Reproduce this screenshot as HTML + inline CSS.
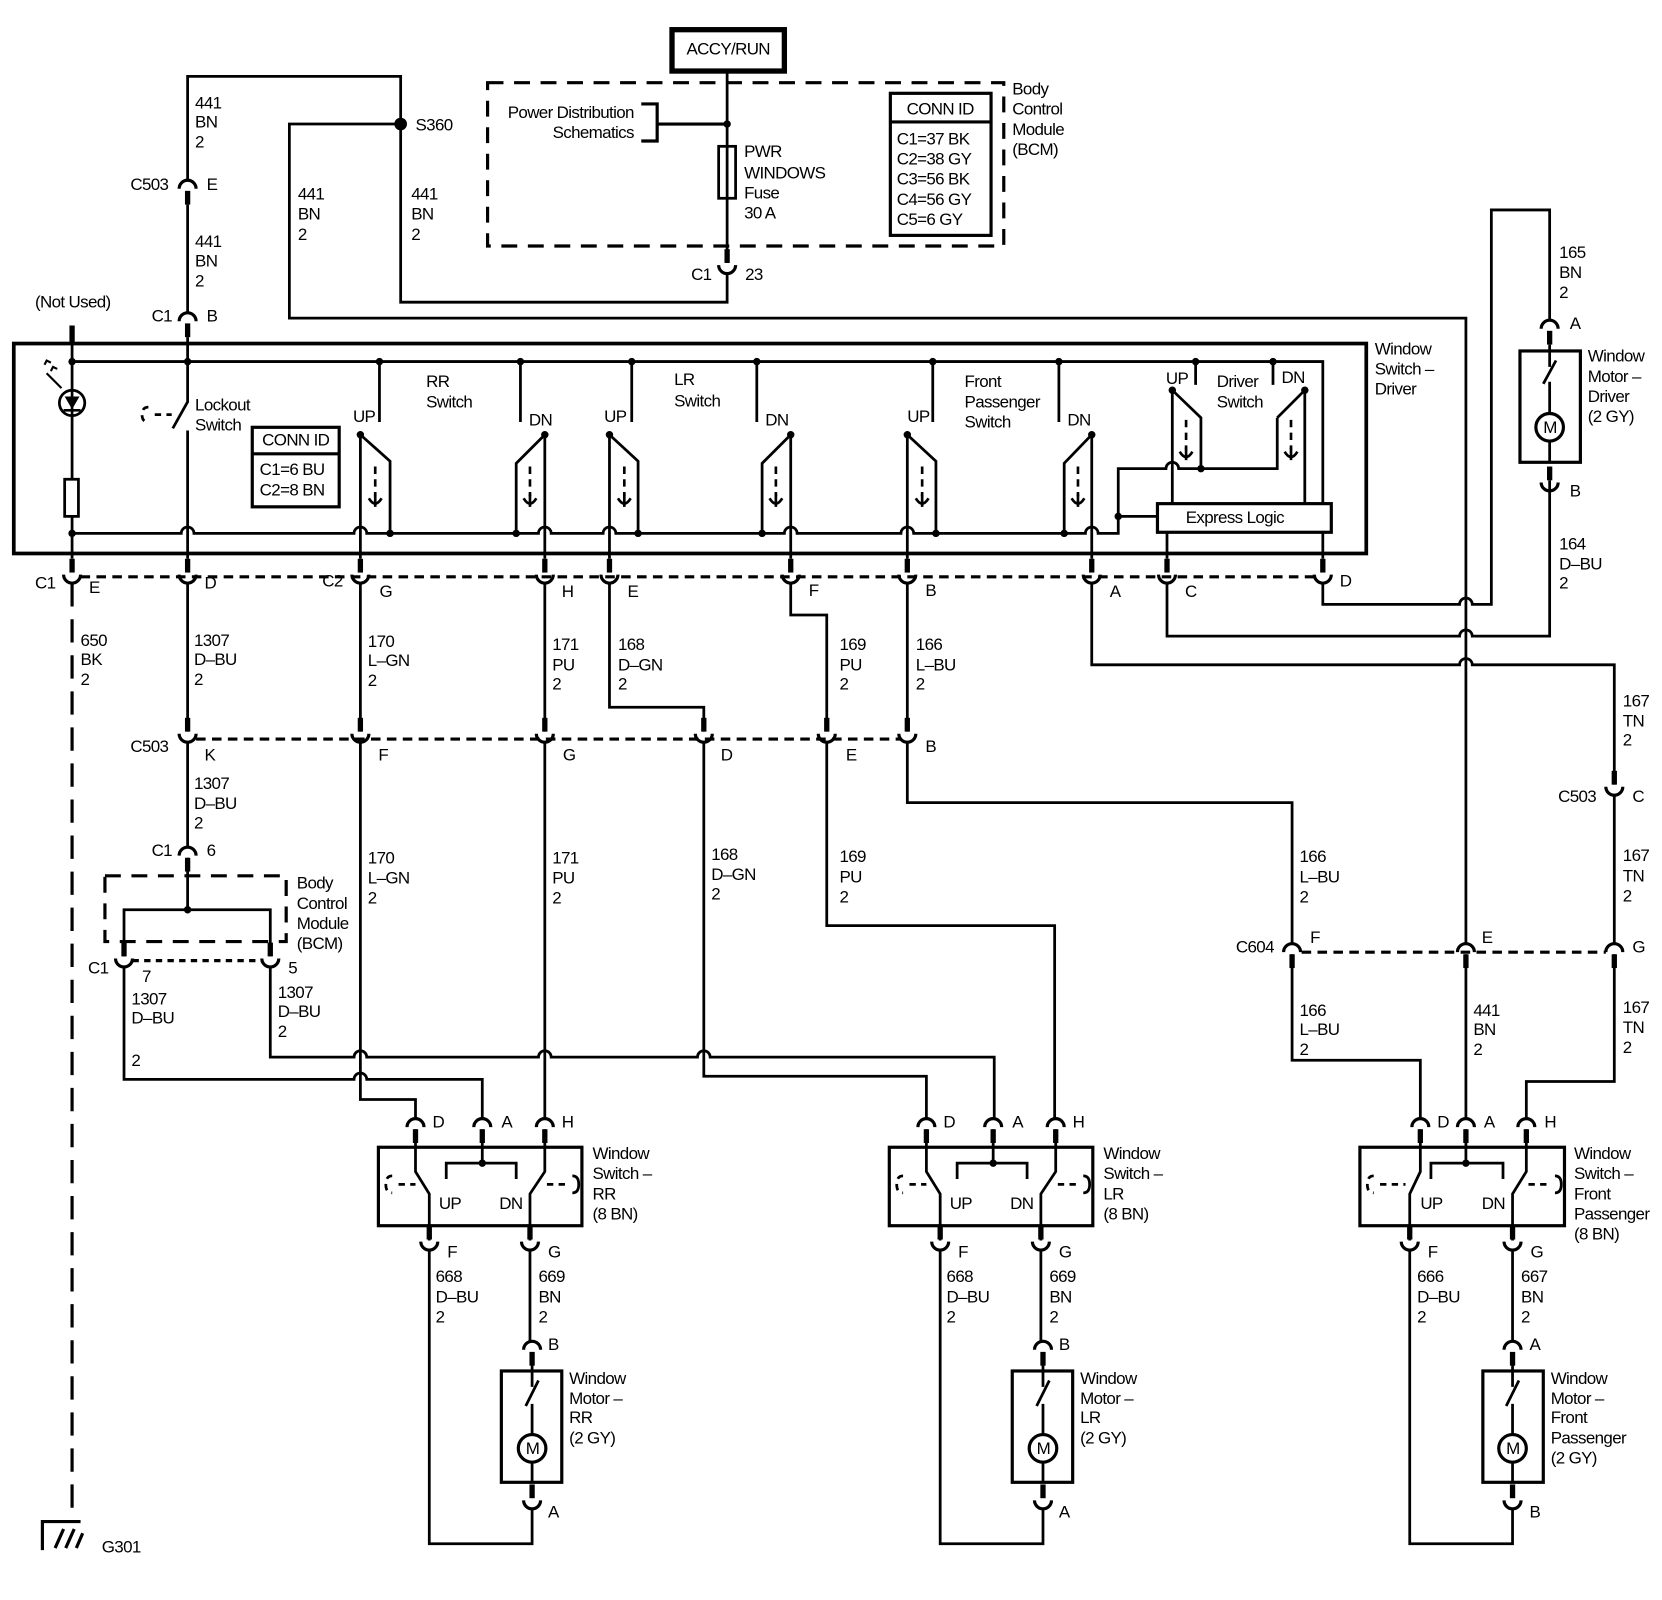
<!DOCTYPE html>
<html><head><meta charset="utf-8"><style>
html,body{margin:0;padding:0;background:#fff;}
svg{display:block;}
text{font-family:"Liberation Sans Narrow","Liberation Sans",sans-serif;font-size:16px;letter-spacing:-0.6px;dominant-baseline:central;fill:#000;}
</style></head><body>
<svg width="1662" height="1600" viewBox="0 0 1568 1509" preserveAspectRatio="none" xmlns="http://www.w3.org/2000/svg">
<defs>
<g id="cd"><path d="M-8,5 A8,8 0 0 1 8,5" fill="none" stroke="#000" stroke-width="3"/><line x1="0" y1="7" x2="0" y2="20" stroke="#000" stroke-width="5"/></g>
<g id="cu"><path d="M-8,-5 A8,8 0 0 0 8,-5" fill="none" stroke="#000" stroke-width="3"/><line x1="0" y1="-20" x2="0" y2="-7" stroke="#000" stroke-width="5"/></g>
<g id="act"><line x1="0" y1="0" x2="0" y2="28" stroke="#000" stroke-width="2.5" stroke-dasharray="7 5"/><path d="M-6,30 Q0,40 6,30 M0,26 V38" fill="none" stroke="#000" stroke-width="2.5"/></g>
</defs>
<rect width="1568" height="1509" fill="#fff"/>
<g fill="none" stroke="#000" stroke-width="2.6">
<rect x="634" y="28" width="106" height="39" stroke-width="5"/>
<rect x="460" y="78" width="487" height="154" stroke-width="3" stroke-dasharray="15 10"/>
<path d="M686,67 V248"/>
<rect x="678" y="138" width="16" height="49" fill="#fff"/>
<path d="M686,138 V187"/>
<path d="M605,98 H620 V133 H605 M620,117 H686" stroke-width="3"/>
<rect x="840" y="88" width="95" height="134" stroke-width="3"/>
<path d="M840,115 H935" stroke-width="3"/>
<path d="M177,170 V72 H378 V285 H686 V258"/>
<path d="M378,117 H273 V300 H1383 V890"/>
<path d="M1383,900 V1055"/>
<path d="M177,193 V295"/>
<rect x="13" y="324" width="1276" height="198" stroke-width="3.5"/>
<path d="M68,307 V325" stroke-width="5"/>
<path d="M68,325 V527"/>
<path d="M177,318 V379 L163,404 M177,406 V527"/>
<path d="M140,384 q-6,0 -6,7 q0,7 6,7 M146,391 H162" stroke-dasharray="6 5"/>
<path d="M68,341 H1248 V474"/>
<path d="M358,341 V398 M491,341 V398 M596,341 V398 M714,341 V398 M880,341 V398 M999,341 V398 M1128,341 V363 M1201,341 V363"/>
<path d="M68,503 H171 a6,6 0 0 1 12,0 H334 a6,6 0 0 1 12,0 H508 a6,6 0 0 1 12,0 H569 a6,6 0 0 1 12,0 H740 a6,6 0 0 1 12,0 H850 a6,6 0 0 1 12,0 H1024 a6,6 0 0 1 12,0 H1055 V442 H1100 a6,6 0 0 1 12,0 H1205 V394"/>
<path d="M1055,487 H1092"/>
<path d="M340,410 V527 M340,410 L368,435 V503"/>
<path d="M514,410 V527 M514,410 L487,437 V503"/>
<path d="M575,410 V527 M575,410 L602,435 V503"/>
<path d="M746,410 V527 M746,410 L719,437 V503"/>
<path d="M856,410 V527 M856,410 L883,435 V503"/>
<path d="M1030,410 V527 M1030,410 L1004,437 V503"/>
<path d="M1106,368 V474 M1106,368 L1133,394 V442"/>
<path d="M1231,368 V474 M1231,368 L1205,394"/>
<rect x="1092" y="475" width="164" height="27" stroke-width="3"/>
<path d="M1101,502 V527 M1248,502 V527"/>
<circle cx="68" cy="380" r="12" fill="#fff"/>
<rect x="61" y="452" width="13" height="35" fill="#fff"/>
<rect x="238" y="403" width="82" height="75" stroke-width="3"/>
<path d="M238,428 H320" stroke-width="3"/>
<path d="M76,544 H1240" stroke-width="3" stroke-dasharray="9 6"/>
<path d="M68,550 V1432" stroke-width="3" stroke-dasharray="22 12"/>
<path d="M177,550 V690 M177,700 V799 M177,809 V858 M117,902 V858 H255 V902"/>
<rect x="99" y="826" width="171" height="62" stroke-width="3" stroke-dasharray="15 10"/>
<path d="M125,906 H247" stroke-width="3" stroke-dasharray="6 5"/>
<path d="M117,912 V1018 H334 a6,6 0 0 1 12,0 H455 V1055"/>
<path d="M255,912 V997 H334 a6,6 0 0 1 12,0 H508 a6,6 0 0 1 12,0 H658 a6,6 0 0 1 12,0 H938 V1055"/>
<path d="M340,550 V690 M340,700 V1037 H392 V1055"/>
<path d="M514,550 V690 M514,700 V1055"/>
<path d="M575,550 V667 H664 V690 M664,700 V1015 H874 V1055"/>
<path d="M746,550 V580 H780 V690 M780,700 V873 H995 V1055"/>
<path d="M856,550 V690 M856,700 V757 H1219 V890 M1219,900 V1000 H1340 V1055"/>
<path d="M1030,550 V627 H1377 a6,6 0 0 1 12,0 H1523 V740 M1523,750 V890 M1523,900 V1020 H1440 V1055"/>
<path d="M1101,550 V600 H1377 a6,6 0 0 1 12,0 H1462 V453"/>
<path d="M1248,550 V570 H1377 a6,6 0 0 1 12,0 H1407 V198 H1462 V302"/>
<path d="M185,697 H850" stroke-width="3" stroke-dasharray="9 6"/>
<path d="M1228,898 H1515" stroke-width="3" stroke-dasharray="9 6"/>
<rect x="1434" y="331" width="57" height="105" stroke-width="3"/>
<path d="M1462,325 V346 M1456,362 L1468,340 M1462,360 V390 M1462,416 V436"/>
<circle cx="1462" cy="403" r="13" fill="#fff" stroke-width="3"/>
<path d="M40,1462 V1435 H76 M52,1460 L60,1442 M62,1460 L70,1442 M72,1460 L78,1446" stroke-width="3"/>
<g id="sw">
<rect x="357" y="1082" width="192" height="74" stroke-width="3"/>
<path d="M392,1065 V1105 L405,1126 V1170"/>
<path d="M455,1065 V1097 M421,1112 V1097 H487 V1112"/>
<path d="M514,1065 V1105 L500,1126 V1170"/>
<path d="M370,1109 q-6,0 -6,8 q0,8 6,8 M376,1117 H392 M516,1117 H534" stroke-dasharray="6 5"/>
<path d="M540,1109 q6,0 6,8 q0,8 -6,8"/>
<path d="M405,1179 V1456 H502 V1423"/>
<path d="M500,1179 V1265"/>
<rect x="473" y="1293" width="57" height="105" stroke-width="3"/>
<path d="M502,1287 V1308 M496,1326 L508,1302 M502,1324 V1353 M502,1379 V1398"/>
<circle cx="502" cy="1366" r="13" fill="#fff" stroke-width="3"/>
</g>
<use href="#sw" x="482" y="0"/>
<rect x="1283" y="1082" width="193" height="74" stroke-width="3"/>
<path d="M1340,1065 V1105 L1330,1126 V1170"/>
<path d="M1383,1065 V1097 M1350,1112 V1097 H1418 V1112"/>
<path d="M1440,1065 V1105 L1427,1126 V1170"/>
<path d="M1296,1109 q-6,0 -6,8 q0,8 6,8 M1302,1117 H1326 M1442,1117 H1462" stroke-dasharray="6 5"/>
<path d="M1467,1109 q6,0 6,8 q0,8 -6,8"/>
<path d="M1330,1179 V1456 H1427 V1423"/>
<path d="M1427,1179 V1265"/>
<rect x="1399" y="1293" width="57" height="105" stroke-width="3"/>
<path d="M1427,1287 V1308 M1421,1326 L1433,1302 M1427,1324 V1353 M1427,1379 V1398"/>
<circle cx="1427" cy="1366" r="13" fill="#fff" stroke-width="3"/>
</g>
<path d="M61,374 H75 L68,386 Z" fill="#000"/>
<path d="M60,387 H76 M68,368 V392" stroke="#000" stroke-width="2.5"/>
<path d="M50,358 L58,366 M44,352 L52,360 M48,350 l2,-4 4,2 M42,344 l2,-4 4,2" stroke="#000" stroke-width="2" fill="none"/>
<use href="#act" x="354" y="440"/><use href="#act" x="500" y="440"/><use href="#act" x="589" y="440"/><use href="#act" x="732" y="440"/><use href="#act" x="870" y="440"/><use href="#act" x="1017" y="440"/><use href="#act" x="1119" y="396"/><use href="#act" x="1218" y="396"/>
<g fill="#000">
<circle cx="378" cy="117" r="6"/><circle cx="686" cy="117" r="3.5"/>
<circle cx="68" cy="341" r="3.5"/><circle cx="177" cy="341" r="3.5"/><circle cx="358" cy="341" r="3.5"/><circle cx="491" cy="341" r="3.5"/><circle cx="596" cy="341" r="3.5"/><circle cx="714" cy="341" r="3.5"/><circle cx="880" cy="341" r="3.5"/><circle cx="999" cy="341" r="3.5"/><circle cx="1128" cy="341" r="3.5"/><circle cx="1201" cy="341" r="3.5"/>
<circle cx="68" cy="503" r="3.5"/><circle cx="368" cy="503" r="3.5"/><circle cx="487" cy="503" r="3.5"/><circle cx="602" cy="503" r="3.5"/><circle cx="719" cy="503" r="3.5"/><circle cx="883" cy="503" r="3.5"/><circle cx="1004" cy="503" r="3.5"/>
<circle cx="340" cy="410" r="3.5"/><circle cx="514" cy="410" r="3.5"/><circle cx="575" cy="410" r="3.5"/><circle cx="746" cy="410" r="3.5"/><circle cx="856" cy="410" r="3.5"/><circle cx="1030" cy="410" r="3.5"/><circle cx="1106" cy="368" r="3.5"/><circle cx="1231" cy="368" r="3.5"/>
<circle cx="1133" cy="442" r="3.5"/><circle cx="1055" cy="487" r="3.5"/><circle cx="177" cy="858" r="3.5"/>
<circle cx="455" cy="1097" r="3.5"/><circle cx="937" cy="1097" r="3.5"/><circle cx="1383" cy="1097" r="3.5"/>
</g>
<use href="#cd" x="177" y="173"/><use href="#cd" x="177" y="298"/><use href="#cu" x="686" y="255"/>
<use href="#cu" x="68" y="547"/><use href="#cu" x="177" y="547"/><use href="#cu" x="340" y="547"/><use href="#cu" x="514" y="547"/><use href="#cu" x="575" y="547"/><use href="#cu" x="746" y="547"/><use href="#cu" x="856" y="547"/><use href="#cu" x="1030" y="547"/><use href="#cu" x="1101" y="547"/><use href="#cu" x="1248" y="547"/>
<use href="#cu" x="177" y="697"/><use href="#cu" x="340" y="697"/><use href="#cu" x="514" y="697"/><use href="#cu" x="664" y="697"/><use href="#cu" x="780" y="697"/><use href="#cu" x="856" y="697"/>
<use href="#cd" x="177" y="802"/><use href="#cu" x="117" y="909"/><use href="#cu" x="255" y="909"/>
<use href="#cd" x="1462" y="305"/><use href="#cu" x="1462" y="460"/><use href="#cu" x="1523" y="747"/>
<use href="#cd" x="1219" y="893"/><use href="#cd" x="1383" y="893"/><use href="#cd" x="1523" y="893"/>
<use href="#cd" x="392" y="1058"/><use href="#cd" x="455" y="1058"/><use href="#cd" x="514" y="1058"/><use href="#cu" x="405" y="1176"/><use href="#cu" x="500" y="1176"/><use href="#cd" x="502" y="1268"/><use href="#cu" x="502" y="1420"/>
<use href="#cd" x="874" y="1058"/><use href="#cd" x="937" y="1058"/><use href="#cd" x="996" y="1058"/><use href="#cu" x="887" y="1176"/><use href="#cu" x="982" y="1176"/><use href="#cd" x="984" y="1268"/><use href="#cu" x="984" y="1420"/>
<use href="#cd" x="1340" y="1058"/><use href="#cd" x="1383" y="1058"/><use href="#cd" x="1440" y="1058"/><use href="#cu" x="1330" y="1176"/><use href="#cu" x="1427" y="1176"/><use href="#cd" x="1427" y="1268"/><use href="#cu" x="1427" y="1420"/>

<text x="687" y="46" text-anchor="middle">ACCY/RUN</text>
<text x="598" y="106" text-anchor="end">Power Distribution</text>
<text x="598" y="125" text-anchor="end">Schematics</text>
<text x="702" y="143">PWR</text><text x="702" y="163">WINDOWS</text><text x="702" y="182">Fuse</text><text x="702" y="201">30 A</text>
<text x="887" y="103" text-anchor="middle">CONN ID</text>
<text x="846" y="131">C1=37 BK</text><text x="846" y="150">C2=38 GY</text><text x="846" y="169">C3=56 BK</text><text x="846" y="188">C4=56 GY</text><text x="846" y="207">C5=6 GY</text>
<text x="955" y="84">Body</text><text x="955" y="103">Control</text><text x="955" y="122">Module</text><text x="955" y="141">(BCM)</text>
<text x="652" y="259">C1</text><text x="703" y="259">23</text>
<text x="392" y="118">S360</text>
<text x="184" y="97">441</text><text x="184" y="115">BN</text><text x="184" y="134">2</text>
<text x="123" y="174">C503</text><text x="195" y="174">E</text>
<text x="184" y="228">441</text><text x="184" y="246">BN</text><text x="184" y="265">2</text>
<text x="281" y="183">441</text><text x="281" y="202">BN</text><text x="281" y="221">2</text>
<text x="388" y="183">441</text><text x="388" y="202">BN</text><text x="388" y="221">2</text>
<text x="33" y="285">(Not Used)</text>
<text x="143" y="298">C1</text><text x="195" y="298">B</text>
<text x="1297" y="329">Window</text><text x="1297" y="348">Switch –</text><text x="1297" y="367">Driver</text>
<text x="184" y="382">Lockout</text><text x="184" y="401">Switch</text>
<text x="279" y="415" text-anchor="middle">CONN ID</text>
<text x="245" y="443">C1=6 BU</text><text x="245" y="462">C2=8 BN</text>
<text x="333" y="393">UP</text><text x="499" y="396">DN</text><text x="570" y="393">UP</text><text x="722" y="396">DN</text><text x="856" y="393">UP</text><text x="1007" y="396">DN</text><text x="1100" y="357">UP</text><text x="1209" y="356">DN</text>
<text x="402" y="360">RR</text><text x="402" y="379">Switch</text>
<text x="636" y="358">LR</text><text x="636" y="378">Switch</text>
<text x="910" y="360">Front</text><text x="910" y="379">Passenger</text><text x="910" y="398">Switch</text>
<text x="1148" y="360">Driver</text><text x="1148" y="379">Switch</text>
<text x="1165" y="488" text-anchor="middle">Express Logic</text>
<text x="33" y="550">C1</text><text x="84" y="554">E</text><text x="193" y="550">D</text><text x="304" y="548">C2</text><text x="358" y="558">G</text><text x="530" y="558">H</text><text x="592" y="558">E</text><text x="763" y="557">F</text><text x="873" y="557">B</text><text x="1047" y="558">A</text><text x="1118" y="558">C</text><text x="1264" y="548">D</text>
<text x="76" y="604">650</text><text x="76" y="622">BK</text><text x="76" y="641">2</text>
<text x="183" y="604">1307</text><text x="183" y="622">D–BU</text><text x="183" y="641">2</text>
<text x="347" y="605">170</text><text x="347" y="623">L–GN</text><text x="347" y="642">2</text>
<text x="521" y="608">171</text><text x="521" y="627">PU</text><text x="521" y="645">2</text>
<text x="583" y="608">168</text><text x="583" y="627">D–GN</text><text x="583" y="645">2</text>
<text x="792" y="608">169</text><text x="792" y="627">PU</text><text x="792" y="645">2</text>
<text x="864" y="608">166</text><text x="864" y="627">L–BU</text><text x="864" y="645">2</text>
<text x="1471" y="238">165</text><text x="1471" y="257">BN</text><text x="1471" y="276">2</text>
<text x="1481" y="305">A</text><text x="1481" y="463">B</text>
<text x="1498" y="336">Window</text><text x="1498" y="355">Motor –</text><text x="1498" y="374">Driver</text><text x="1498" y="393">(2 GY)</text>
<text x="1471" y="513">164</text><text x="1471" y="532">D–BU</text><text x="1471" y="550">2</text>
<text x="1531" y="661">167</text><text x="1531" y="680">TN</text><text x="1531" y="698">2</text>
<text x="123" y="704">C503</text><text x="193" y="712">K</text><text x="357" y="712">F</text><text x="531" y="712">G</text><text x="680" y="712">D</text><text x="798" y="712">E</text><text x="873" y="704">B</text>
<text x="183" y="739">1307</text><text x="183" y="758">D–BU</text><text x="183" y="776">2</text>
<text x="1470" y="751">C503</text><text x="1540" y="751">C</text>
<text x="143" y="802">C1</text><text x="195" y="802">6</text>
<text x="280" y="833">Body</text><text x="280" y="852">Control</text><text x="280" y="871">Module</text><text x="280" y="890">(BCM)</text>
<text x="83" y="913">C1</text><text x="134" y="921">7</text><text x="272" y="913">5</text>
<text x="124" y="942">1307</text><text x="124" y="960">D–BU</text><text x="124" y="1000">2</text>
<text x="262" y="936">1307</text><text x="262" y="954">D–BU</text><text x="262" y="973">2</text>
<text x="347" y="809">170</text><text x="347" y="828">L–GN</text><text x="347" y="847">2</text>
<text x="521" y="809">171</text><text x="521" y="828">PU</text><text x="521" y="847">2</text>
<text x="671" y="806">168</text><text x="671" y="825">D–GN</text><text x="671" y="843">2</text>
<text x="792" y="808">169</text><text x="792" y="827">PU</text><text x="792" y="846">2</text>
<text x="1226" y="808">166</text><text x="1226" y="827">L–BU</text><text x="1226" y="846">2</text>
<text x="1531" y="807">167</text><text x="1531" y="826">TN</text><text x="1531" y="845">2</text>
<text x="1166" y="893">C604</text><text x="1236" y="884">F</text><text x="1398" y="884">E</text><text x="1540" y="893">G</text>
<text x="1226" y="953">166</text><text x="1226" y="971">L–BU</text><text x="1226" y="990">2</text>
<text x="1390" y="953">441</text><text x="1390" y="971">BN</text><text x="1390" y="990">2</text>
<text x="1531" y="950">167</text><text x="1531" y="969">TN</text><text x="1531" y="988">2</text>
<text x="408" y="1058">D</text><text x="473" y="1058">A</text><text x="530" y="1058">H</text>
<text x="559" y="1088">Window</text><text x="559" y="1107">Switch –</text><text x="559" y="1126">RR</text><text x="559" y="1145">(8 BN)</text>
<text x="414" y="1135">UP</text><text x="471" y="1135">DN</text>
<text x="422" y="1181">F</text><text x="517" y="1181">G</text>
<text x="411" y="1204">668</text><text x="411" y="1223">D–BU</text><text x="411" y="1242">2</text>
<text x="508" y="1204">669</text><text x="508" y="1223">BN</text><text x="508" y="1242">2</text>
<text x="517" y="1268">B</text><text x="517" y="1426">A</text>
<text x="537" y="1300">Window</text><text x="537" y="1319">Motor –</text><text x="537" y="1337">RR</text><text x="537" y="1356">(2 GY)</text>
<text x="890" y="1058">D</text><text x="955" y="1058">A</text><text x="1012" y="1058">H</text>
<text x="1041" y="1088">Window</text><text x="1041" y="1107">Switch –</text><text x="1041" y="1126">LR</text><text x="1041" y="1145">(8 BN)</text>
<text x="896" y="1135">UP</text><text x="953" y="1135">DN</text>
<text x="904" y="1181">F</text><text x="999" y="1181">G</text>
<text x="893" y="1204">668</text><text x="893" y="1223">D–BU</text><text x="893" y="1242">2</text>
<text x="990" y="1204">669</text><text x="990" y="1223">BN</text><text x="990" y="1242">2</text>
<text x="999" y="1268">B</text><text x="999" y="1426">A</text>
<text x="1019" y="1300">Window</text><text x="1019" y="1319">Motor –</text><text x="1019" y="1337">LR</text><text x="1019" y="1356">(2 GY)</text>
<text x="1356" y="1058">D</text><text x="1400" y="1058">A</text><text x="1457" y="1058">H</text>
<text x="1485" y="1088">Window</text><text x="1485" y="1107">Switch –</text><text x="1485" y="1126">Front</text><text x="1485" y="1145">Passenger</text><text x="1485" y="1164">(8 BN)</text>
<text x="1340" y="1135">UP</text><text x="1398" y="1135">DN</text>
<text x="1347" y="1181">F</text><text x="1444" y="1181">G</text>
<text x="1337" y="1204">666</text><text x="1337" y="1223">D–BU</text><text x="1337" y="1242">2</text>
<text x="1435" y="1204">667</text><text x="1435" y="1223">BN</text><text x="1435" y="1242">2</text>
<text x="1443" y="1268">A</text><text x="1443" y="1426">B</text>
<text x="1463" y="1300">Window</text><text x="1463" y="1319">Motor –</text><text x="1463" y="1337">Front</text><text x="1463" y="1356">Passenger</text><text x="1463" y="1375">(2 GY)</text>
<text x="496" y="1366" font-size="13">M</text><text x="978" y="1366" font-size="13">M</text><text x="1421" y="1366" font-size="13">M</text><text x="1456" y="403" font-size="13">M</text>
<text x="96" y="1459">G301</text>
</svg>
</body></html>
